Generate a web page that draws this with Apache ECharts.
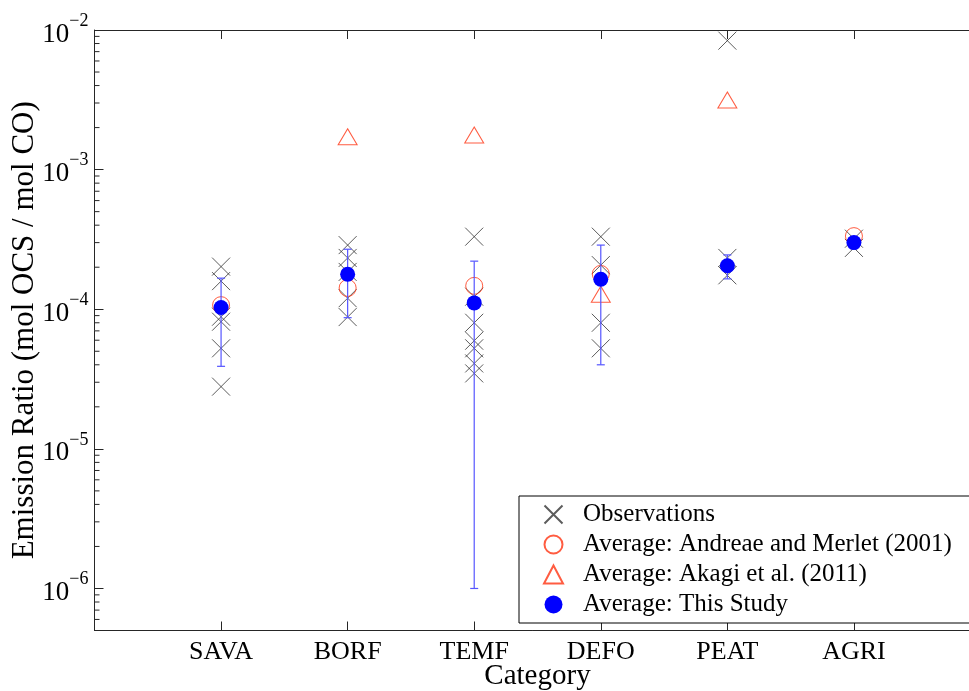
<!DOCTYPE html>
<html>
<head>
<meta charset="utf-8">
<script src="https://cdn.jsdelivr.net/npm/echarts@6/dist/echarts.min.js"></script>
<style>
  html, body { margin: 0; padding: 0; background: #fff; }
  #chart { width: 969px; height: 691px; }
</style>
</head>
<body>
<div id="chart"></div>
<script>
// Fire categories, placed at x = 1..6 on a 0..7 value axis
const categories = ['SAVA', 'BORF', 'TEMF', 'DEFO', 'PEAT', 'AGRI'];

// Individual observed OCS/CO emission ratios for each category
const observations = [
  [2.02e-4, 1.59e-4, 8.84e-5, 8.14e-5, 5.25e-5, 2.79e-5],
  [2.88e-4, 2.33e-4, 1.85e-4, 1.20e-4, 8.79e-5],
  [3.31e-4, 1.23e-4, 8.0e-5, 5.95e-5, 5.25e-5, 4.09e-5, 3.47e-5],
  [3.31e-4, 2.07e-4, 8.0e-5, 5.25e-5],
  [8.39e-3, 2.33e-4, 1.75e-4],
  [3.2e-4, 2.75e-4]
];

// Literature averages (null where no value is given)
const andreaeMerlet = [1.07e-4, 1.42e-4, 1.47e-4, 1.79e-4, null, 3.34e-4];
const akagi = [null, 1.72e-3, 1.77e-3, 1.28e-4, 3.15e-3, null];

// This study: mean and one standard deviation
const studyMean = [1.03e-4, 1.78e-4, 1.11e-4, 1.64e-4, 2.05e-4, 3.0e-4];
const studySd = [6.4e-5, 9.1e-5, 1.10e-4, 1.24e-4, 4.0e-5, 1.0e-5];

// Log axis range
const yMin = 5e-7;
const yMax = 1e-2;

const FONT = '"Liberation Serif", "DejaVu Serif", serif';
const AXIS_COLOR = '#262626';

const obsData = [];
observations.forEach((vals, i) => vals.forEach(v => obsData.push([i + 1, v])));
const amData = andreaeMerlet.map((v, i) => v == null ? null : [i + 1, v]).filter(Boolean);
const akData = akagi.map((v, i) => v == null ? null : [i + 1, v]).filter(Boolean);
const meanData = studyMean.map((v, i) => [i + 1, v]);
const errData = studyMean.map((v, i) => [i + 1, v, studySd[i]]);

// Minor ticks of the log axis at 2..9 × 10^k
const minorTicks = [];
for (let k = -7; k <= -3; k++) {
  for (let m = 2; m <= 9; m++) {
    const v = m * Math.pow(10, k);
    if (v > yMin * 0.999 && v < yMax) minorTicks.push([0, v]);
  }
}

const crossPath = 'path://M0,0L20,20M20,0L0,20';

const chart = echarts.init(document.getElementById('chart'), null, { renderer: 'canvas' });

chart.setOption({
  animation: false,
  backgroundColor: '#fff',
  textStyle: { fontFamily: FONT },
  grid: {
    left: 94.5, top: 30, width: 886, height: 600.5,
    containLabel: false,
    outerBoundsMode: 'none'
  },
  legend: {
    orient: 'vertical',
    left: 519,
    top: 496,
    data: ['Observations', 'Average: Andreae and Merlet (2001)', 'Average: Akagi et al. (2011)', 'Average: This Study'],
    itemWidth: 19,
    itemHeight: 18,
    itemGap: 5,
    padding: [6, 500, 6, 24],
    borderColor: '#000',
    borderWidth: 1,
    backgroundColor: '#fff',
    selectedMode: false,
    textStyle: { fontFamily: FONT, fontSize: 25, color: '#000', padding: [0, 0, 0, 15] }
  },
  xAxis: [{
    type: 'value',
    min: 0,
    max: 7,
    interval: 1,
    name: 'Category',
    nameLocation: 'middle',
    nameGap: 31,
    nameMoveOverlap: false,
    nameTextStyle: { fontFamily: FONT, fontSize: 29, color: '#000' },
    axisLine: { lineStyle: { color: AXIS_COLOR, width: 1 } },
    axisTick: { inside: true, length: 9, lineStyle: { color: AXIS_COLOR } },
    axisLabel: {
      margin: 9,
      fontFamily: FONT, fontSize: 26, color: '#000',
      formatter: v => categories[v - 1] || ''
    },
    splitLine: { show: false }
  }, {
    type: 'value',
    position: 'top',
    min: 0,
    max: 7,
    interval: 1,
    axisLine: { lineStyle: { color: AXIS_COLOR, width: 1 } },
    axisTick: { inside: true, length: 9, lineStyle: { color: AXIS_COLOR } },
    axisLabel: { show: false },
    splitLine: { show: false }
  }],
  yAxis: {
    type: 'log',
    logBase: 10,
    min: yMin,
    max: yMax,
    name: 'Emission Ratio (mol OCS / mol CO)',
    nameLocation: 'middle',
    nameGap: 54,
    nameMoveOverlap: false,
    nameTextStyle: { fontFamily: FONT, fontSize: 31, color: '#000' },
    axisLine: { show: true, lineStyle: { color: AXIS_COLOR, width: 1 } },
    axisTick: { inside: true, length: 9, lineStyle: { color: AXIS_COLOR } },
    splitLine: { show: false },
    axisLabel: {
      margin: 6,
      formatter: v => {
        const e = Math.log10(v);
        if (Math.abs(e - Math.round(e)) > 1e-6) return '';
        return '{b|10}{s|\u2212' + Math.abs(Math.round(e)) + '}';
      },
      rich: {
        b: { fontFamily: FONT, fontSize: 27, color: '#000', lineHeight: 36, verticalAlign: 'bottom' },
        s: { fontFamily: FONT, fontSize: 18, color: '#000', lineHeight: 36, verticalAlign: 'top' }
      }
    }
  },
  series: [
    {
      // minor ticks on the left spine
      type: 'custom',
      silent: true,
      data: minorTicks,
      clip: false,
      z: 1,
      renderItem: (params, api) => {
        const p = api.coord([api.value(0), api.value(1)]);
        return {
          type: 'line',
          shape: { x1: p[0], y1: p[1], x2: p[0] + 5, y2: p[1] },
          style: { stroke: AXIS_COLOR, lineWidth: 1 }
        };
      }
    },
    {
      name: 'Observations',
      type: 'scatter',
      data: obsData,
      symbol: crossPath,
      symbolSize: 18,
      itemStyle: { color: 'rgba(0,0,0,0)', borderColor: '#333', borderWidth: 1 },
      emphasis: { disabled: true },
      z: 2
    },
    {
      name: 'Average: Andreae and Merlet (2001)',
      type: 'scatter',
      data: amData,
      symbol: 'circle',
      symbolSize: 17,
      itemStyle: { color: 'rgba(0,0,0,0)', borderColor: '#ff3311', borderWidth: 1 },
      emphasis: { disabled: true },
      z: 3
    },
    {
      name: 'Average: Akagi et al. (2011)',
      type: 'scatter',
      data: akData,
      symbol: 'triangle',
      symbolSize: [19, 16],
      itemStyle: { color: 'rgba(0,0,0,0)', borderColor: '#ff3311', borderWidth: 1 },
      emphasis: { disabled: true },
      z: 3
    },
    {
      // one-sigma error bars of this study
      type: 'custom',
      silent: true,
      data: errData,
      z: 4,
      renderItem: (params, api) => {
        const x = api.value(0), m = api.value(1), s = api.value(2);
        const top = api.coord([x, m + s]);
        const bot = api.coord([x, m - s]);
        const w = 4;
        const style = { stroke: '#5555ff', lineWidth: 1.2 };
        return {
          type: 'group',
          children: [
            { type: 'line', shape: { x1: top[0], y1: top[1], x2: bot[0], y2: bot[1] }, style },
            { type: 'line', shape: { x1: top[0] - w, y1: top[1], x2: top[0] + w, y2: top[1] }, style },
            { type: 'line', shape: { x1: bot[0] - w, y1: bot[1], x2: bot[0] + w, y2: bot[1] }, style }
          ]
        };
      }
    },
    {
      name: 'Average: This Study',
      type: 'scatter',
      data: meanData,
      symbol: 'circle',
      symbolSize: 15,
      itemStyle: { color: '#0000ff', opacity: 1 },
      emphasis: { disabled: true },
      z: 5
    }
  ]
});
</script>
</body>
</html>
